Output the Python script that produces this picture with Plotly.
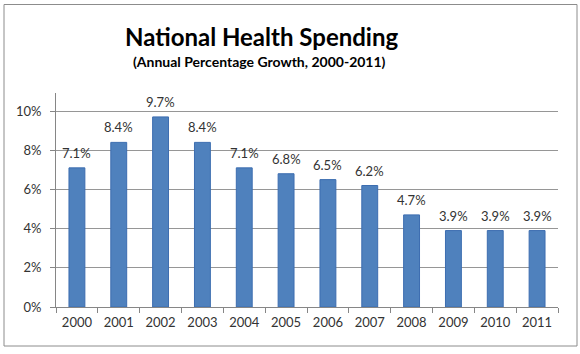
import plotly.graph_objects as go

years = ["2000", "2001", "2002", "2003", "2004", "2005", "2006", "2007", "2008", "2009", "2010", "2011"]
growth = [7.1, 8.4, 9.7, 8.4, 7.1, 6.8, 6.5, 6.2, 4.7, 3.9, 3.9, 3.9]
labels = [f"{v:.1f}%" for v in growth]
y_ticks = [0, 2, 4, 6, 8, 10]
y_tick_text = [f"{t}%" for t in y_ticks]

W, H = 580, 354
L, R, T, B = 56, 22, 93, 47
pw, ph = W - L - R, H - T - B

def px_x(x):
    return (x - L) / pw

def px_y(y):
    return 1 - (y - T) / ph

FONT = "Lato, 'Open Sans', sans-serif"
TXT = "#333333"

fig = go.Figure(go.Bar(
    x=years, y=growth,
    marker=dict(color="#4F81BD", line=dict(color="#3C6DB0", width=1)),
    width=0.38, cliponaxis=False,
))

value_labels = [
    dict(x=i, y=v, text=lab, xref="x", yref="y", showarrow=False,
         xanchor="center", yanchor="bottom", yshift=5,
         font=dict(family=FONT, size=13, color=TXT))
    for i, (v, lab) in enumerate(zip(growth, labels))
]

fig.update_layout(
    width=W, height=H,
    margin=dict(l=L, r=R, t=T, b=B),
    paper_bgcolor="white", plot_bgcolor="white",
    showlegend=False,
    xaxis=dict(type="category", tickson="boundaries", ticks="outside", ticklen=5,
               tickcolor="#868686", showline=True, linecolor="#868686", linewidth=1,
               showgrid=False, tickfont=dict(family=FONT, size=13, color=TXT),
               ticklabelstandoff=3),
    yaxis=dict(range=[0, 10.92], tickvals=y_ticks, ticktext=y_tick_text,
               ticks="outside", ticklen=5, tickcolor="#868686",
               showline=True, linecolor="#868686", linewidth=1,
               showgrid=True, gridcolor="#969696", gridwidth=1,
               tickfont=dict(family=FONT, size=13, color=TXT), zeroline=False,
               ticklabelstandoff=6),
    annotations=value_labels + [
        dict(text="<b>National Health Spending</b>", xref="paper", yref="paper",
             x=px_x(261), y=px_y(37), xanchor="center", yanchor="middle", showarrow=False,
             font=dict(family=FONT, size=24, color="black")),
        dict(text="<b>(Annual Percentage Growth, 2000-2011)</b>", xref="paper", yref="paper",
             x=px_x(259), y=px_y(61), xanchor="center", yanchor="middle", showarrow=False,
             font=dict(family=FONT, size=14, color="black")),
    ],
    shapes=[dict(type="rect", xref="paper", yref="paper",
                 x0=px_x(4), x1=px_x(577), y0=px_y(346), y1=px_y(4.5),
                 line=dict(color="#8C8C8C", width=1), layer="below")],
)

fig.write_html("out.html")
